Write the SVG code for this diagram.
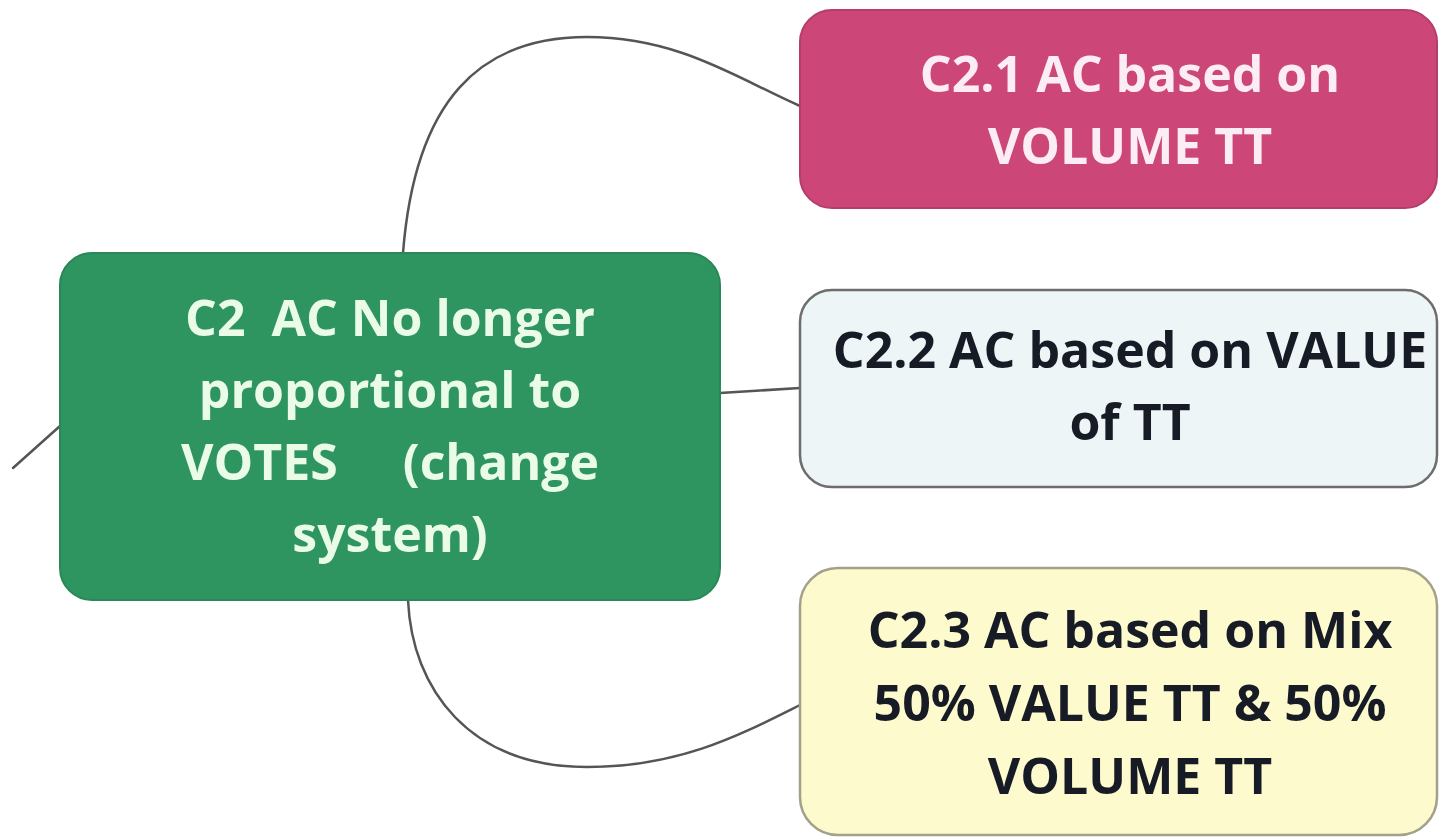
<svg xmlns="http://www.w3.org/2000/svg" width="1439" height="838" viewBox="0 0 1439 838">
<style>
.t{font-family:"Open Sans","Noto Sans","Liberation Sans",sans-serif;font-weight:700;font-size:50px;text-anchor:middle}
.light{fill:#eafbe8}
.pinkt{fill:#fcecf3}
.dark{fill:#161b25}
.conn{fill:none;stroke:#555;stroke-width:2.5;stroke-linecap:round}
</style>
<rect width="1439" height="838" fill="#ffffff"/>
<g id="connectors">
<path class="conn" d="M13,468 L60,426"/>
<path class="conn" d="M403,253 C415,100 480,37 587,37 C680,37 740,80 800,106"/>
<path class="conn" d="M720,393 L800,388"/>
<path class="conn" d="M408,600 C412,690 470,767 587,767 C680,767 740,735 800,705"/>
</g>
<g id="c2">
<rect x="60" y="253" width="660" height="347" rx="32" fill="#2e9560" stroke="#2a8757" stroke-width="2"/>
<text class="t light" x="390" y="336" xml:space="preserve">C2  AC No longer</text>
<text class="t light" x="390" y="408">proportional to</text>
<text class="t light" x="390" y="480" xml:space="preserve">VOTES     (change</text>
<text class="t light" x="390" y="552">system)</text>
</g>
<g id="c2-1">
<rect x="800" y="10" width="637" height="198" rx="32" fill="#cc4777" stroke="#b53d69" stroke-width="2"/>
<text class="t pinkt" x="1130" y="92">C2.1 AC based on</text>
<text class="t pinkt" x="1130" y="164">VOLUME TT</text>
</g>
<g id="c2-2">
<rect x="800" y="290" width="637" height="197" rx="32" fill="#eef5f7" stroke="#6d6d6d" stroke-width="2.5"/>
<text class="t dark" x="1130" y="368">C2.2 AC based on VALUE</text>
<text class="t dark" x="1130" y="440">of TT</text>
</g>
<g id="c2-3">
<rect x="800" y="568" width="637" height="267" rx="38" fill="#fdfacd" stroke="#a3a189" stroke-width="2.5"/>
<text class="t dark" x="1130" y="648">C2.3 AC based on Mix</text>
<text class="t dark" x="1130" y="721">50% VALUE TT &amp; 50%</text>
<text class="t dark" x="1130" y="794">VOLUME TT</text>
</g>
</svg>
